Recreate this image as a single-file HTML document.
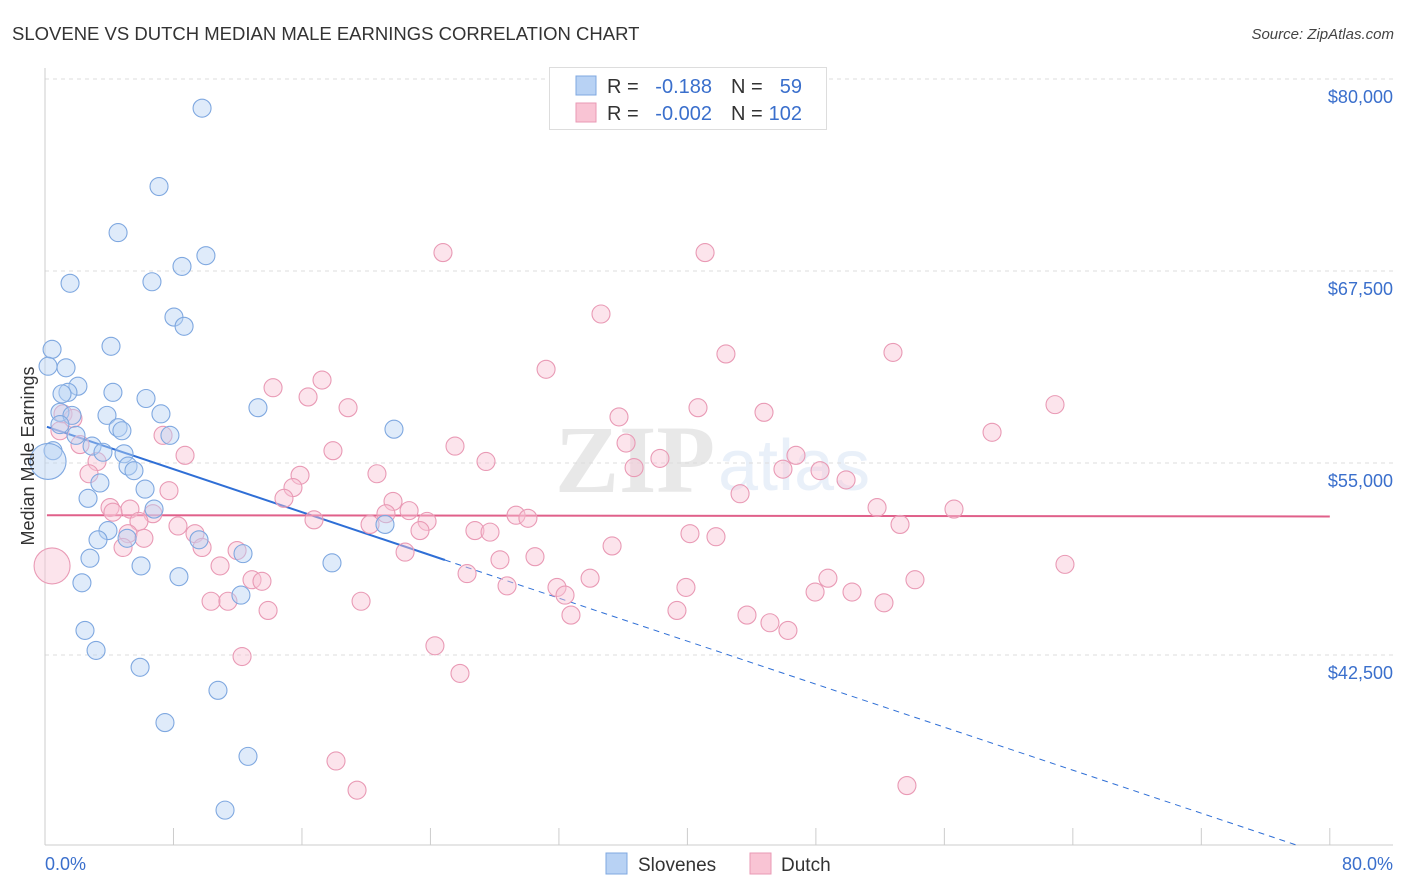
<!DOCTYPE html>
<html><head><meta charset="utf-8">
<style>
body{margin:0;background:#fff;font-family:"Liberation Sans",sans-serif;}
svg{display:block}
</style></head><body>
<svg id="chart" width="1406" height="892" xmlns="http://www.w3.org/2000/svg">
<text x="12" y="40" font-size="18.5" fill="#333">SLOVENE VS DUTCH MEDIAN MALE EARNINGS CORRELATION CHART</text>
<text x="1394" y="39" font-size="15" fill="#444" font-style="italic" text-anchor="end">Source: ZipAtlas.com</text>
<g opacity="0.13">
<text x="555" y="492" font-size="96" font-family="Liberation Serif" font-weight="bold" fill="#555">ZIP</text>
<text x="718" y="490" font-size="72" fill="#5b8fd6">atlas</text>
</g>
<g id="grid"></g>
<g id="axes"></g>
<g id="trends"></g>
<g id="points"></g>
<g>
<rect x="549.5" y="67.5" width="277" height="62" fill="#fff" stroke="#ddd"/>
<rect x="576" y="76" width="20" height="19" fill="#b8d2f4" stroke="#7fa8e0"/>
<rect x="576" y="103" width="20" height="19" fill="#f9c4d4" stroke="#e99ab5"/>
<text x="607" y="93" font-size="20" fill="#333">R =</text>
<text x="712" y="93" font-size="20" fill="#3a6fcc" text-anchor="end">-0.188</text>
<text x="731" y="93" font-size="20" fill="#333">N =</text>
<text x="802" y="93" font-size="20" fill="#3a6fcc" text-anchor="end">59</text>
<text x="607" y="120" font-size="20" fill="#333">R =</text>
<text x="712" y="120" font-size="20" fill="#3a6fcc" text-anchor="end">-0.002</text>
<text x="731" y="120" font-size="20" fill="#333">N =</text>
<text x="802" y="120" font-size="20" fill="#3a6fcc" text-anchor="end">102</text>
</g>
<text transform="translate(34,456) rotate(-90)" font-size="18" fill="#333" text-anchor="middle">Median Male Earnings</text>
<text x="45" y="870" font-size="18" fill="#3a6fcc">0.0%</text>
<text x="1393" y="870" font-size="18" fill="#3a6fcc" text-anchor="end">80.0%</text>
<g>
<rect x="606" y="853" width="21" height="21" fill="#b8d2f4" stroke="#7fa8e0"/>
<text x="638" y="871" font-size="19" fill="#333">Slovenes</text>
</g>
<g>
<rect x="750" y="853" width="21" height="21" fill="#f9c4d4" stroke="#e99ab5"/>
<text x="781" y="871" font-size="19" fill="#333">Dutch</text>
</g>
</svg>
<script>
const yTicks=[42500,55000,67500,80000];
const yTickLabels=["$42,500","$55,000","$67,500","$80,000"];
const xTicks=[0,8,16,24,32,40,48,56,64,72,80];
const sloveneX=[9.78,7.10,4.55,10.02,8.53,6.66,1.56,8.03,8.66,4.11,0.44,0.19,1.31,2.05,4.23,1.43,1.06,6.29,13.26,0.93,1.68,3.86,7.22,4.55,4.79,21.73,0.93,1.93,7.78,2.93,0.50,3.61,4.92,0.19,5.17,5.54,3.42,6.23,2.68,6.79,3.92,21.17,3.30,5.11,9.59,12.33,2.80,5.98,17.87,8.34,2.30,12.20,2.49,3.18,5.92,10.77,7.47,12.64,11.21];
const sloveneY=[78.1,73.0,70.0,68.5,67.8,66.8,66.7,64.5,63.9,62.6,62.4,61.3,61.2,60.0,59.6,59.6,59.5,59.2,58.6,58.3,58.1,58.1,58.2,57.3,57.1,57.2,57.5,56.8,56.8,56.1,55.8,55.7,55.6,55.1,54.8,54.5,53.7,53.3,52.7,52.0,50.6,51.0,50.0,50.1,50.0,49.1,48.8,48.3,48.5,47.6,47.2,46.4,44.1,42.8,41.7,40.2,38.1,35.9,32.4];
const sloveneSize=[1,1,1,1,1,1,1,1,1,1,1,1,1,1,1,1,1,1,1,1,1,1,1,1,1,1,1,1,1,1,1,1,1,2.0,1,1,1,1,1,1,1,1,1,1,1,1,1,1,1,1,1,1,1,1,1,1,1,1,1];
const dutchX=[24.78,41.10,34.62,42.40,52.80,31.20,17.25,14.20,16.38,18.87,40.66,44.77,35.74,62.89,58.97,1.12,1.74,7.35,0.93,25.53,36.18,17.93,2.18,8.72,3.24,27.46,38.29,46.76,36.68,20.67,45.95,48.26,15.88,2.74,49.88,15.44,7.72,43.28,14.88,21.67,4.05,5.29,22.67,4.23,29.33,6.72,21.23,51.81,56.60,16.75,30.07,5.85,23.79,20.24,8.28,23.35,26.77,27.71,9.34,40.16,41.78,53.24,5.17,6.16,9.78,35.31,4.86,11.96,22.42,30.51,28.33,10.90,63.51,26.28,48.75,33.94,54.17,12.89,13.51,31.88,39.91,28.77,32.38,47.95,50.25,19.68,10.34,11.39,52.24,13.89,39.35,43.71,32.75,45.14,46.26,24.28,12.27,25.84,18.12,19.43,53.67,0.44];
const dutchY=[68.7,68.7,64.7,62.1,62.2,61.1,60.4,59.9,59.3,58.6,58.6,58.3,58.0,58.8,57.0,58.2,57.9,56.8,57.1,56.1,56.3,55.8,56.2,55.5,55.1,55.1,55.3,55.5,54.7,54.3,54.6,54.5,54.2,54.3,53.9,53.4,53.2,53.0,52.7,52.5,52.1,52.0,51.9,51.8,51.6,51.7,51.7,52.1,52.0,51.3,51.4,51.2,51.2,51.0,50.9,50.6,50.6,50.5,50.4,50.4,50.2,51.0,50.4,50.1,49.5,49.6,49.5,49.3,49.2,48.9,48.7,48.3,48.4,47.8,47.5,47.5,47.4,47.4,47.3,46.9,46.9,47.0,46.4,46.6,46.6,46.0,46.0,46.0,45.9,45.4,45.4,45.1,45.1,44.6,44.1,43.1,42.4,41.3,35.6,33.7,34.0,48.3];
const blueTrend=[57.4,-0.35];
const pinkTrend=[51.6,-0.001];

const NS="http://www.w3.org/2000/svg";
const X=v=>45+v*16.06;
const Y=v=>79+(80-v)*15.36; // v in $k
function mk(tag,attrs,parent){const e=document.createElementNS(NS,tag);for(const k in attrs)e.setAttribute(k,attrs[k]);parent.appendChild(e);return e;}
const grid=document.getElementById('grid'),axes=document.getElementById('axes'),trends=document.getElementById('trends'),pts=document.getElementById('points');
yTicks.forEach((t,i)=>{
 const l=mk('line',{x1:45,x2:1393,y1:Y(t/1000),y2:Y(t/1000),stroke:'#ddd','stroke-dasharray':'4,4'},grid);
 
 
 const tx=mk('text',{x:1393,y:Y(t/1000)+24,'font-size':18,fill:'#3a6fcc','text-anchor':'end'},grid);
 tx.textContent=yTickLabels[i];
 
 
});
mk('line',{x1:45,x2:45,y1:68,y2:845,stroke:'#ccc'},axes);
mk('line',{x1:45,x2:1393,y1:845,y2:845,stroke:'#ccc'},axes);
xTicks.forEach(t=>{
 const l=mk('line',{x1:X(t),x2:X(t),y1:828,y2:845,stroke:'#ccc'},axes);
 
 
});
function dot(x,y,s,fill,stroke){
 return mk('circle',{cx:X(x),cy:Y(y),r:9*s,fill:fill,'fill-opacity':0.45,stroke:stroke,'stroke-width':1.1},pts);
}
dutchX.forEach((x,i)=>{const c=dot(x,dutchY[i],i===dutchX.length-1?2.0:1,'#f9c4d4','#e99ab5');
 
 });
sloveneX.forEach((x,i)=>{const c=dot(x,sloveneY[i],sloveneSize[i],'#b8d2f4','#7fa8e0');
 
 });
const bt=x=>blueTrend[0]+blueTrend[1]*x, pt=x=>pinkTrend[0]+pinkTrend[1]*x;
let l=mk('line',{x1:X(0.12),y1:Y(bt(0.12)),x2:X(24.9),y2:Y(bt(24.9)),stroke:'#2f6fd6','stroke-width':2},trends);


l=mk('line',{x1:X(24.9),y1:Y(bt(24.9)),x2:X(78.1),y2:Y(bt(78.1)),stroke:'#2f6fd6','stroke-width':1,'stroke-dasharray':'6,5'},trends);


l=mk('line',{x1:X(0.12),y1:Y(pt(0.12)),x2:X(80),y2:Y(pt(80)),stroke:'#e0608a','stroke-width':2},trends);


</script>
</body></html>
